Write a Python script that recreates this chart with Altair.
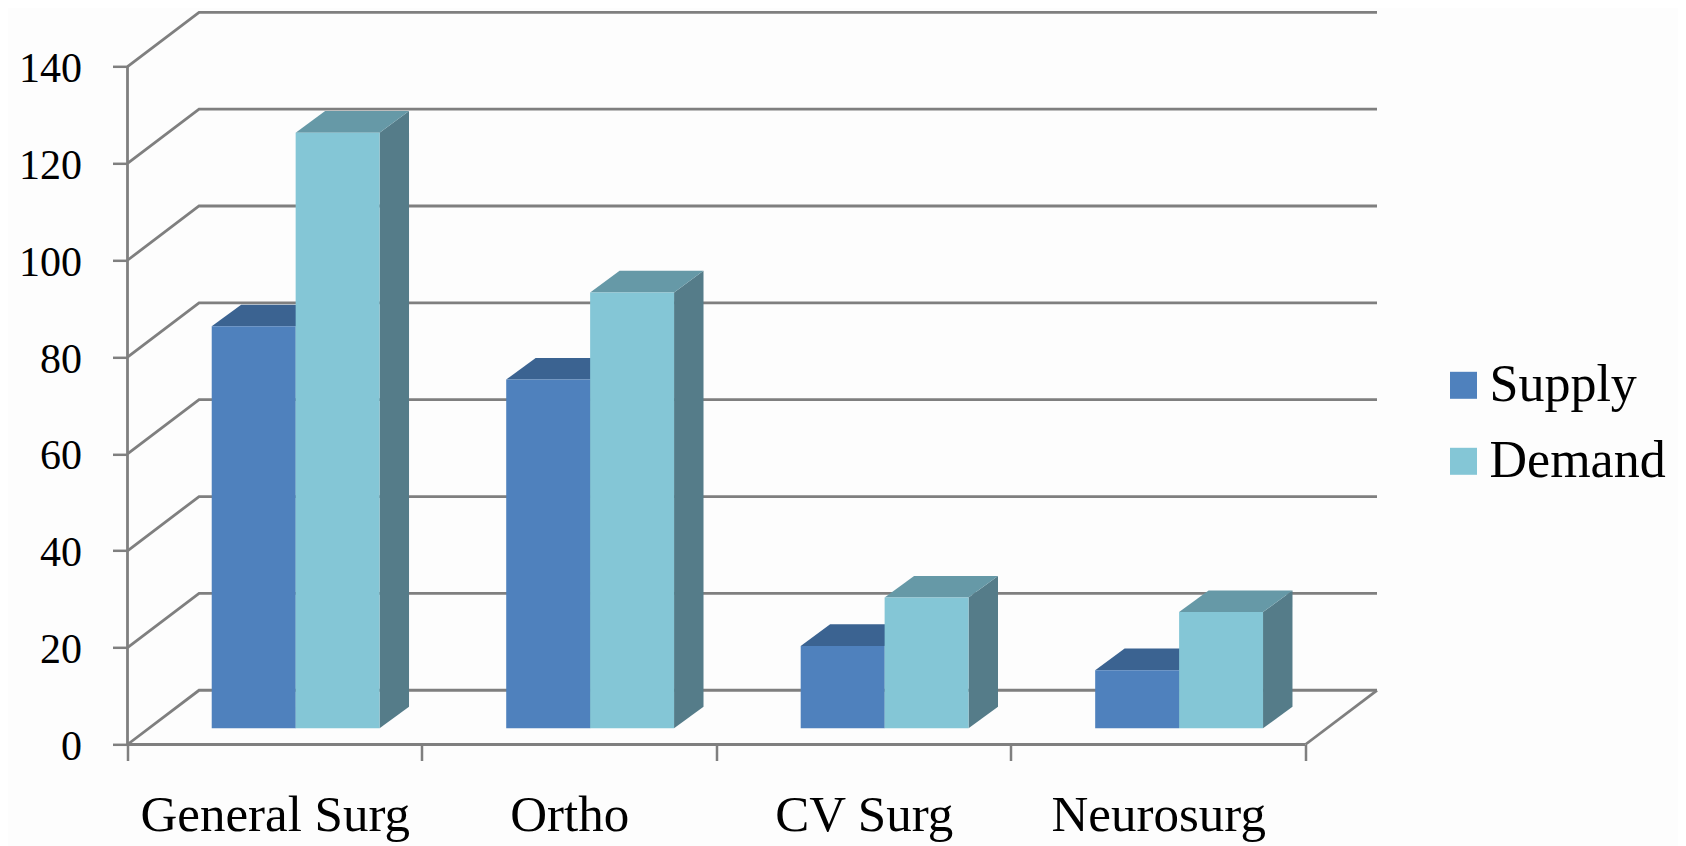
import altair as alt
import pandas as pd

categories = ["General Surg", "Ortho", "CV Surg", "Neurosurg"]
series = ["Supply", "Demand"]
supply = [83, 72, 17, 12]
demand = [123, 90, 27, 24]
y_ticks = [0, 20, 40, 60, 80, 100, 120, 140]
front_colors = ["#4f81bd", "#84c6d6"]
top_colors = ["#3b6391", "#6699a7"]
side_colors = ["#3a5f8b", "#557c89"]

GRID = "#7f7f7f"
FONT = "Liberation Serif"
X_MAX, Y_MAX = 4.243, 151.2
WALL_DX, WALL_DY = 0.243, 11.2
BAR_DX, BAR_DY = 0.1, 4.46
BAR_BASE = 3.35
BAR_START, BAR_W = 0.286, 0.285

fronts, faces, grid_rows = [], [], []
for c, cat in enumerate(categories):
    for s, (name, vals) in enumerate(zip(series, [supply, demand])):
        x0 = c + BAR_START + s * BAR_W
        x1 = x0 + BAR_W
        top = BAR_BASE + vals[c]
        fronts.append(dict(series=name, x0=x0, x1=x1, y0=BAR_BASE, y1=top))
        fid = f"{c}-{s}"
        faces += [
            dict(id="side" + fid, kind="side", s=s, x=x1, lo=BAR_BASE, hi=top),
            dict(id="side" + fid, kind="side", s=s, x=x1 + BAR_DX, lo=BAR_BASE + BAR_DY, hi=top + BAR_DY),
            dict(id="top" + fid, kind="top", s=s, x=x0, lo=top, hi=top),
            dict(id="top" + fid, kind="top", s=s, x=x0 + BAR_DX, lo=top, hi=top + BAR_DY),
            dict(id="top" + fid, kind="top", s=s, x=x1, lo=top, hi=top + BAR_DY),
            dict(id="top" + fid, kind="top", s=s, x=x1 + BAR_DX, lo=top + BAR_DY, hi=top + BAR_DY),
        ]

for v in y_ticks:
    grid_rows += [
        dict(id=v, order=0, x=0, y=v),
        dict(id=v, order=1, x=WALL_DX, y=v + WALL_DY),
        dict(id=v, order=2, x=4 + WALL_DX, y=v + WALL_DY),
    ]
grid_rows += [
    dict(id="floor", order=0, x=4, y=0),
    dict(id="floor", order=1, x=4 + WALL_DX, y=WALL_DY),
    dict(id="xaxis", order=0, x=0, y=0),
    dict(id="xaxis", order=1, x=4, y=0),
    dict(id="yaxis", order=0, x=0, y=0),
    dict(id="yaxis", order=1, x=0, y=y_ticks[-1]),
]

x_scale = alt.Scale(domain=[0, X_MAX], nice=False, zero=False)
y_scale = alt.Scale(domain=[0, Y_MAX], nice=False, zero=False)

label_map = ", ".join(f"'{i + 0.5}': '{n}'" for i, n in enumerate(categories))
x_axis = alt.Axis(
    values=[0, 0.5, 1, 1.5, 2, 2.5, 3, 3.5, 4],
    labelExpr="({" + label_map + "})[toString(datum.value)] || ''",
    title=None, grid=False, domain=False, ticks=True, tickSize=16, tickWidth=2.5, tickColor=GRID,
    tickOpacity={"condition": {"test": "datum.value % 1 === 0", "value": 1}, "value": 0},
    labelFont=FONT, labelFontSize=51, labelColor="#000000", labelPadding=30, labelFlush=False,
    labelOverlap=False, labelAngle=0, labelLimit=0,
)
y_axis = alt.Axis(
    values=y_ticks, title=None, grid=False, domain=False, tickSize=15, tickWidth=2.5, tickColor=GRID,
    labelFont=FONT, labelFontSize=42, labelColor="#000000", labelPadding=31, labelOverlap=False,
    labelOffset=2,
)

grid_layer = alt.Chart(pd.DataFrame(grid_rows)).mark_line(color=GRID, strokeWidth=2.8).encode(
    x=alt.X("x:Q", scale=x_scale, axis=x_axis),
    y=alt.Y("y:Q", scale=y_scale, axis=y_axis),
    detail="id:N",
    order="order:Q",
)

faces_df = pd.DataFrame(faces)


def face_layer(kind, s, color):
    sub = faces_df[(faces_df.kind == kind) & (faces_df.s == s)]
    return alt.Chart(sub).mark_area(interpolate="linear", color=color, opacity=1).encode(
        x=alt.X("x:Q", scale=x_scale),
        y=alt.Y("lo:Q", scale=y_scale, stack=None),
        y2="hi:Q",
        detail="id:N",
    )


side_layers = [face_layer("side", s, side_colors[s]) for s in range(2)]
top_layers = [face_layer("top", s, top_colors[s]) for s in range(2)]

front_layer = alt.Chart(pd.DataFrame(fronts)).mark_bar(opacity=1, cornerRadius=0).encode(
    x=alt.X("x0:Q", scale=x_scale),
    x2="x1:Q",
    y=alt.Y("y0:Q", scale=y_scale),
    y2="y1:Q",
    color=alt.Color(
        "series:N",
        scale=alt.Scale(domain=series, range=front_colors),
        legend=alt.Legend(
            orient="none", legendX=1310, legendY=347, title=None, symbolType="square", symbolSize=729,
            symbolStrokeWidth=0, labelFont=FONT, labelFontSize=52, labelColor="#000000",
            rowPadding=24, labelOffset=0, padding=0, labelLimit=0,
        ),
    ),
)

chart = (
    alt.layer(grid_layer, *side_layers, *top_layers, front_layer)
    .properties(
        width=1249.5, height=732.2,
        autosize=alt.AutoSizeParams(type="none"),
        padding={"left": 119.5, "top": 4.3, "right": 301, "bottom": 101.5},
        background="#fdfdfd",
    )
    .configure_view(stroke=None)
)
chart.save("out.html", embed_options={"renderer": "svg", "actions": False})
